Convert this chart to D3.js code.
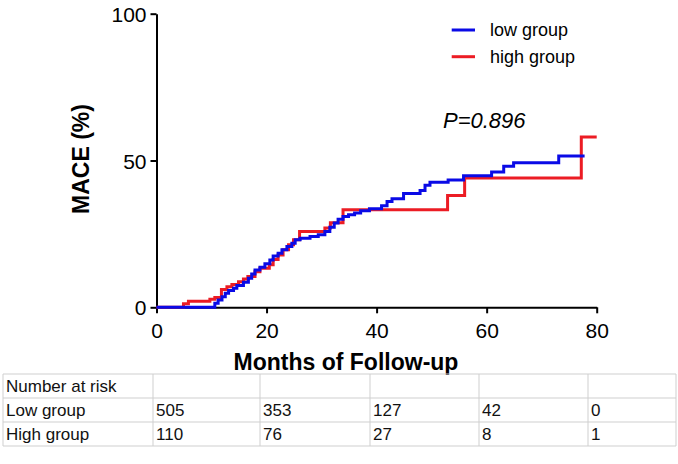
<!DOCTYPE html>
<html><head><meta charset="utf-8">
<script src="https://cdn.jsdelivr.net/npm/d3@7"></script>
<style>html,body{margin:0;padding:0;background:#fff;}svg{display:block;font-family:"Liberation Sans",Arial,sans-serif;}</style>
</head><body><svg id="c" width="678" height="464"></svg>
<script>
// Data (months, cumulative MACE %)
const lowMonths = [0,10.6,11.2,11.9,12.5,13.1,14.0,14.6,15.8,16.7,17.3,17.9,18.8,19.7,20.6,21.2,22.1,22.8,23.7,24.6,25.2,26.1,27.9,29.4,30.6,31.5,32.3,33.0,33.9,34.9,36.0,37.1,38.7,40.9,41.9,42.8,44.9,47.9,48.8,49.7,53.0,55.8,60.9,63.1,64.9,73.1,77.8];
const lowMace   = [0,1.4,2.5,3.6,4.8,5.7,6.5,7.4,8.5,9.9,11.3,12.7,13.6,14.8,16.1,17.5,18.4,19.6,20.7,21.8,23.0,23.5,24.1,24.7,25.8,27.3,28.7,30.0,30.9,31.5,32.1,32.9,33.6,34.6,36.0,37.0,38.8,39.8,41.6,42.6,43.4,44.8,46.1,48.0,49.2,51.5,51.5];
const highMonths = [0,4.9,5.8,9.7,10.6,11.8,12.8,13.7,14.9,15.8,16.6,17.9,18.8,20.5,21.2,22.1,23.0,24.0,24.9,26.0,30.6,31.6,33.9,52.9,56.0,77.2,80];
const highMace   = [0,1.2,2.1,2.7,3.3,6.1,7.0,7.8,8.7,9.6,10.5,12.1,13.3,14.5,16.3,17.8,19.6,21.3,23.0,25.8,27.0,28.8,33.2,38.1,44.0,58.0,58.0];
const seriesNames = ["low group","high group"];
const seriesColors = ["#0a0ae6","#ec1c24"];
const xTicks = [0,20,40,60,80];
const yTicks = [0,50,100];
const riskHeader = "Number at risk";
const riskGroups = ["Low group","High group"];
const riskLow  = [505,353,127,42,0];
const riskHigh = [110,76,27,8,1];
const pText = "P=0.896";

const svg = d3.select("#c");
const x = d3.scaleLinear().domain([0,80]).range([156.5,596.7]);
const y = d3.scaleLinear().domain([0,100]).range([307.3,13.7]);

// Axes
const xAxis = svg.append("g").attr("transform","translate(0,307.3)")
  .call(d3.axisBottom(x).tickValues(xTicks).tickSize(6).tickSizeOuter(0).tickPadding(10));
const yAxis = svg.append("g").attr("transform","translate(156.5,0)")
  .call(d3.axisLeft(y).tickValues(yTicks).tickSize(6).tickSizeOuter(0).tickPadding(4));
[xAxis,yAxis].forEach(a=>{
  a.select(".domain").attr("stroke","#000").attr("stroke-width",2);
  a.selectAll(".tick line").attr("stroke","#000").attr("stroke-width",2);
  a.selectAll(".tick text").attr("fill","#000").style("font-size","21px").style("font-family","'Liberation Sans',Arial,sans-serif");
});
xAxis.selectAll(".tick text").attr("dy","0.71em");
yAxis.selectAll(".tick text").attr("dy","0.36em");

// Curves
const line = d3.line().x(d=>x(d[0])).y(d=>y(d[1])).curve(d3.curveStepAfter);
const lowData = lowMonths.map((m,i)=>[m,lowMace[i]]);
const highData = highMonths.map((m,i)=>[m,highMace[i]]);
svg.append("path").datum(highData).attr("d",line).attr("fill","none")
  .attr("stroke",seriesColors[1]).attr("stroke-width",3);
svg.append("path").datum(lowData).attr("d",line).attr("fill","none")
  .attr("stroke",seriesColors[0]).attr("stroke-width",3);

// Axis titles
svg.append("text").attr("transform","translate(89,159) rotate(-90)").attr("text-anchor","middle")
  .style("font-size","23px").style("font-weight","bold").text("MACE (%)");
svg.append("text").attr("x",346).attr("y",370).attr("text-anchor","middle")
  .style("font-size","23px").style("font-weight","bold").text("Months of Follow-up");

// Legend
const leg = svg.append("g");
seriesNames.forEach((n,i)=>{
  const yy = 30 + i*26.7;
  leg.append("line").attr("x1",451.7).attr("x2",475).attr("y1",yy).attr("y2",yy)
    .attr("stroke",seriesColors[i]).attr("stroke-width",3);
  leg.append("text").attr("x",490).attr("y",yy+6).style("font-size","18px").text(n);
});

// P value
svg.append("text").attr("x",443).attr("y",128).style("font-size","22px").style("font-style","italic").text(pText);

// Risk table
const colX = [3,153,260,370,479,588,676];
const rowY = [374,398,422,446];
const tbl = svg.append("g");
const rows = [[riskHeader,"","","","",""],[riskGroups[0],...riskLow],[riskGroups[1],...riskHigh]];
rowY.forEach(r=>tbl.append("line").attr("x1",colX[0]).attr("x2",colX[6]).attr("y1",r).attr("y2",r).attr("stroke","#cfcfcf").attr("stroke-width",1));
colX.forEach(c=>tbl.append("line").attr("x1",c).attr("x2",c).attr("y1",rowY[0]).attr("y2",rowY[3]).attr("stroke","#cfcfcf").attr("stroke-width",1));
rows.forEach((row,ri)=>{
  row.forEach((v,ci)=>{
    tbl.append("text").attr("x",colX[ci]+3).attr("y",rowY[ri]+18).style("font-size","17px")
      .attr("fill","#111").text(v);
  });
});
</script></body></html>
